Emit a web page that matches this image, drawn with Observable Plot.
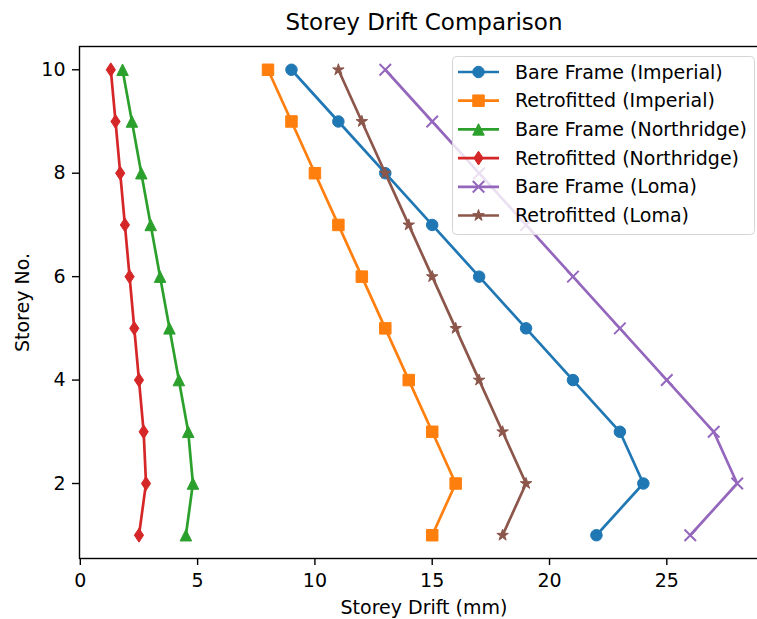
<!DOCTYPE html>
<html><head><meta charset="utf-8">
<script src="https://cdn.jsdelivr.net/npm/d3@7"></script>
<script src="https://cdn.jsdelivr.net/npm/@observablehq/plot@0.6"></script>
<style>
html,body{margin:0;padding:0;overflow:hidden;background:#fff;width:757px;height:619px}
</style></head><body><div id="chart"></div>
<script>
const storeys = [10, 9, 8, 7, 6, 5, 4, 3, 2, 1];
const bareImperial = [9, 11, 13, 15, 17, 19, 21, 23, 24, 22];
const retroImperial = [8, 9, 10, 11, 12, 13, 14, 15, 16, 15];
const bareNorthridge = [1.8, 2.2, 2.6, 3.0, 3.4, 3.8, 4.2, 4.6, 4.8, 4.5];
const retroNorthridge = [1.3, 1.5, 1.7, 1.9, 2.1, 2.3, 2.5, 2.7, 2.8, 2.5];
const bareLoma = [13, 15, 17, 19, 21, 23, 25, 27, 28, 26];
const retroLoma = [11, 12, 13, 14, 15, 16, 17, 18, 19, 18];
const seriesNames = ["Bare Frame (Imperial)", "Retrofitted (Imperial)", "Bare Frame (Northridge)", "Retrofitted (Northridge)", "Bare Frame (Loma)", "Retrofitted (Loma)"];
const seriesValues = [bareImperial, retroImperial, bareNorthridge, retroNorthridge, bareLoma, retroLoma];
const seriesColors = ["#1f77b4", "#ff7f0e", "#2ca02c", "#d62728", "#9467bd", "#8c564b"];
const seriesMarkers = ["circle", "square", "triangle", "diamond", "times", "star"];
const xTicks = [0, 5, 10, 15, 20, 25];
const yTicks = [2, 4, 6, 8, 10];
const titleText = "Storey Drift Comparison";
const xLabel = "Storey Drift (mm)";
const yLabel = "Storey No.";

function makeSym(kind) {
  return {draw(ctx, size) {
    const m = Math.sqrt(size), h = m / 2;
    if (kind === "circle") { ctx.moveTo(h, 0); ctx.arc(0, 0, h, 0, 2 * Math.PI); }
    else if (kind === "square") { ctx.rect(-h, -h, m, m); }
    else if (kind === "triangle") { ctx.moveTo(0, -h); ctx.lineTo(h, h); ctx.lineTo(-h, h); ctx.closePath(); }
    else if (kind === "diamond") { ctx.moveTo(0, -h * 1.2); ctx.lineTo(h * 0.8, 0); ctx.lineTo(0, h * 1.2); ctx.lineTo(-h * 0.8, 0); ctx.closePath(); }
    else if (kind === "times") { ctx.moveTo(-h, -h); ctx.lineTo(h, h); ctx.moveTo(h, -h); ctx.lineTo(-h, h); }
    else if (kind === "star") {
      const R = h * 1.05, r = R * 0.382;
      for (let i = 0; i < 10; i++) {
        const a = -Math.PI / 2 + i * Math.PI / 5, rr = i % 2 ? r : R;
        const px = rr * Math.cos(a), py = rr * Math.sin(a);
        if (i === 0) ctx.moveTo(px, py); else ctx.lineTo(px, py);
      }
      ctx.closePath();
    }
  }};
}
const markerPx = 11.5;
const lineW = 2.7;
const rOf = m => m / Math.sqrt(Math.PI);

const rows = [];
seriesNames.forEach((name, i) => storeys.forEach((s, j) => rows.push({series: name, idx: i, storey: s, drift: seriesValues[i][j]})));

const allDrift = rows.map(d => d.drift);
const dmin = d3.min(allDrift), dmax = d3.max(allDrift), span = dmax - dmin;
const xDomain = [dmin - 0.05 * span, dmax + 0.05 * span];
const smin = d3.min(storeys), smax = d3.max(storeys), sspan = smax - smin;
const yDomain = [smin - 0.05 * sspan, smax + 0.05 * sspan];

const marks = [];
seriesNames.forEach((name, i) => {
  const data = rows.filter(d => d.idx === i);
  marks.push(Plot.line(data, {x: "drift", y: "storey", stroke: seriesColors[i], strokeWidth: lineW}));
  const isStroke = seriesMarkers[i] === "times";
  marks.push(Plot.dot(data, {
    x: "drift", y: "storey", symbol: makeSym(seriesMarkers[i]), r: rOf(markerPx),
    fill: isStroke ? "none" : seriesColors[i], stroke: seriesColors[i], strokeWidth: isStroke ? 2 : 1
  }));
});

const plot = Plot.plot({
  width: 768, height: 619,
  marginLeft: 79, marginRight: 0, marginTop: 46, marginBottom: 61,
  style: {fontFamily: "DejaVu Sans", fontSize: "19px", color: "#000", maxWidth: "none", background: "#fff"},
  x: {domain: xDomain},
  y: {domain: yDomain},
  marks: [
    Plot.axisX({ticks: xTicks, tickSize: 7, tickPadding: 8, label: null, fontSize: 19, strokeWidth: 1.4, tickFormat: d3.format("d")}),
    Plot.axisY({ticks: yTicks, tickSize: 7, tickPadding: 7, label: null, fontSize: 19, strokeWidth: 1.4, tickFormat: d3.format("d")}),
    ...marks,
    Plot.frame({stroke: "#000", strokeWidth: 1.4}),
    Plot.text([titleText], {frameAnchor: "top", dy: -24, lineAnchor: "middle", text: d => d, fontSize: 23, fill: "#000"}),
    Plot.text([xLabel], {frameAnchor: "bottom", dy: 49, lineAnchor: "middle", text: d => d, fontSize: 19, fill: "#000"}),
    Plot.text([yLabel], {frameAnchor: "left", dx: -57, rotate: -90, textAnchor: "middle", text: d => d, fontSize: 19, fill: "#000"})
  ]
});
document.getElementById("chart").appendChild(plot);

// Legend
const svg = d3.select(plot);
const lg = svg.append("g").attr("font-family", "DejaVu Sans").attr("font-size", 19).attr("text-anchor", "start");
lg.append("rect").attr("x", 452.5).attr("y", 56.5).attr("width", 302).attr("height", 178).attr("rx", 4)
  .attr("fill", "#fff").attr("fill-opacity", 0.8).attr("stroke", "#d5d5d5");
seriesNames.forEach((name, i) => {
  const cy = 72 + i * 28.7;
  lg.append("line").attr("x1", 458).attr("x2", 499).attr("y1", cy).attr("y2", cy)
    .attr("stroke", seriesColors[i]).attr("stroke-width", lineW);
  const p = d3.path();
  makeSym(seriesMarkers[i]).draw(p, markerPx * markerPx);
  const isStroke = seriesMarkers[i] === "times";
  lg.append("path").attr("d", p.toString()).attr("transform", `translate(478.5,${cy})`)
    .attr("fill", isStroke ? "none" : seriesColors[i]).attr("stroke", seriesColors[i]).attr("stroke-width", isStroke ? 2 : 1);
  lg.append("text").attr("x", 515).attr("y", cy).attr("dy", "0.35em").attr("fill", "#000").attr("text-anchor", "start").text(name);
});
</script></body></html>
